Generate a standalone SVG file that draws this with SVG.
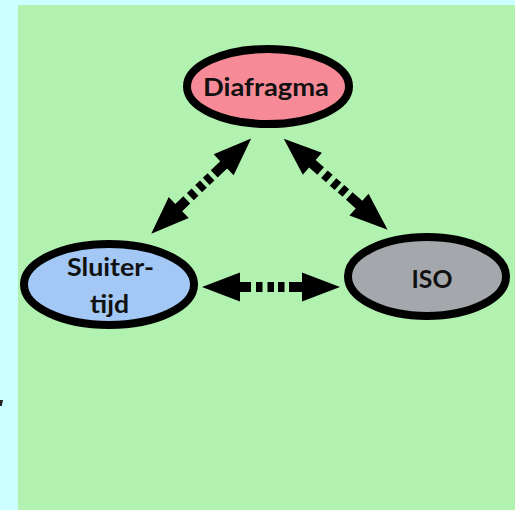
<svg xmlns="http://www.w3.org/2000/svg" xmlns:xlink="http://www.w3.org/1999/xlink" width="515" height="510" viewBox="0 0 515 510">
  <style>
    .node { stroke: #000; stroke-width: 8; }
    .lbl { font-family: Lato, "Open Sans", "Liberation Sans", sans-serif; font-weight: bold; font-size: 24px; fill: #111; text-anchor: middle; }
    .arrow { fill: #000; }
  </style>
  <defs>
    <g id="dblArrow" class="arrow">
      <polygon points="-69,0 -31,-14.5 -31,-5 -20,-5 -20,5 -31,5 -31,14.5"/>
      <polygon points="69,0 31,-14.5 31,-5 18,-5 18,5 31,5 31,14.5"/>
      <rect x="-15" y="-5" width="6.5" height="10"/>
      <rect x="-3.5" y="-5" width="6.5" height="10"/>
      <rect x="7" y="-5" width="6.5" height="10"/>
    </g>
  </defs>
  <rect x="0" y="0" width="515" height="510" fill="#ccffff"/>
  <rect x="18" y="5" width="497" height="505" fill="#b2f2b0"/>
  <polygon points="0,400 3,400 1.8,406 0,406" fill="#222"/>

  <g id="connectors">
    <use xlink:href="#dblArrow" transform="translate(201.2,186.2) rotate(-43.6)"/>
    <use xlink:href="#dblArrow" transform="translate(335.7,184.2) rotate(41.2)"/>
    <use xlink:href="#dblArrow" transform="translate(271,287)"/>
  </g>

  <g id="diafragma">
    <ellipse class="node" cx="268" cy="86.5" rx="81" ry="37.5" fill="#f68b97"/>
    <text class="lbl" x="266" y="95.5" textLength="126" lengthAdjust="spacingAndGlyphs">Diafragma</text>
  </g>
  <g id="sluitertijd">
    <ellipse class="node" cx="109" cy="284.5" rx="85" ry="40.5" fill="#a3c8f5"/>
    <text class="lbl" x="110.5" y="275.5" textLength="87" lengthAdjust="spacingAndGlyphs">Sluiter-</text>
    <text class="lbl" x="109.5" y="313" textLength="39" lengthAdjust="spacingAndGlyphs">tijd</text>
  </g>
  <g id="iso">
    <ellipse class="node" cx="427" cy="276.5" rx="79" ry="39.5" fill="#a4a7ab"/>
    <text class="lbl" x="432" y="287.5" textLength="41" lengthAdjust="spacingAndGlyphs">ISO</text>
  </g>
</svg>
